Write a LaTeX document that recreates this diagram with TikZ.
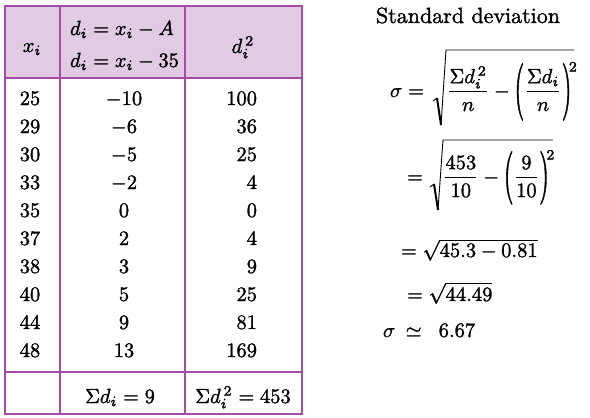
\documentclass[tikz,border=0pt]{standalone}
\usepackage{amsmath}
\usepackage{graphicx}
\definecolor{tline}{HTML}{A54BA8}
\definecolor{thead}{HTML}{E1CBE3}
\newcommand{\fakebold}{\special{pdf:literal direct 2 Tr 0.14 w}}
\newcommand{\tabfont}{\fontsize{10}{12}\selectfont\fakebold}
\newcommand{\lpar}[1]{\mathopen{\vcenter{\hbox{\scalebox{1.25}[#1]{(}}}}}
\newcommand{\rpar}[1]{\mathclose{\vcenter{\hbox{\scalebox{1.25}[#1]{)}}}}}
\newcommand{\lowsq}{\!\raisebox{-1.6pt}{$\scriptstyle 2$}}
\begin{document}
\begin{tikzpicture}[x=1pt,y=-1pt,
  every node/.style={font=\tabfont, inner sep=0pt, outer sep=0pt, scale=2.05},
  tabline/.style={draw=tline, line width=1.5pt},
  cellA/.style={anchor=base},
  cellB/.style={anchor=base},
  cellC/.style={anchor=base east},
  mathline/.style={anchor=base west},
  radthin/.style={line width=0.9pt, line join=round},
  radthick/.style={line width=2pt, line cap=butt}]
\useasboundingbox (0,0) rectangle (590,418);
% table
\fill[thead] (5,6) rectangle (302,78);
\draw[tabline] (5,6) rectangle (302,414);
\draw[tabline] (60,6) -- (60,414);
\draw[tabline] (185,6) -- (185,414);
\draw[tabline] (5,78) -- (302,78);
\draw[tabline] (5,372) -- (302,372);
% header
\node[anchor=base] (hx) at (32,52) {$x_i$};
\node[anchor=base west] (hd1) at (70,35) {$d_i = x_i - A$};
\node[anchor=base west] (hd2) at (70,67) {$d_i = x_i - 35$};
\node[anchor=base] (hd3) at (243,53) {$d_i^{\,2}$};
% rows
\foreach \k/\a/\b/\c in {0/25/-10/100,1/29/-6/36,2/30/-5/25,3/33/-2/4,4/35/0/0,5/37/2/4,6/38/3/9,7/40/5/25,8/44/9/81,9/48/13/169}{
  \node[cellA] (a\k) at (30,105+28*\k) {$\a$};
  \node[cellB] (b\k) at (124,105+28*\k) {$\b$};
  \node[cellC] (c\k) at (257,105+28*\k) {$\c$};
}
% footer
\node[anchor=base] (fb) at (120,403) {$\Sigma d_i = 9$};
\node[anchor=base] (fc) at (243,403) {$\Sigma d_i^{\,2} = 453$};
% right side
\node[anchor=base west, scale=1.073] (title) at (376,23) {Standard deviation};
% line 1
\node[mathline] (m1l) at (390,97) {$\sigma =$};
\node[mathline] (m1r) at (447,97) {$\displaystyle \frac{\Sigma d_i^{\,2}}{n}-\lpar{2.8}\frac{\Sigma d_i}{n}\rpar{2.8}^{\lowsq}$};
\coordinate (r1a) at (433,101);
\coordinate (r1b) at (437,98);
\coordinate (r1c) at (441,125);
\coordinate (r1d) at (446,50);
\coordinate (r1e) at (574,50);
\draw[radthin] (r1a) -- (r1b);
\draw[radthick] (r1b) -- (r1c);
\draw[radthin] (r1c) -- (r1d) -- (r1e);
% line 2
\node[mathline] (m2l) at (407,183) {$=$};
\node[mathline] (m2r) at (443,183) {$\displaystyle \frac{453}{10}-\lpar{2.6}\frac{9}{10}\rpar{2.6}^{\lowsq}$};
\coordinate (r2a) at (430,187);
\coordinate (r2b) at (434,184);
\coordinate (r2c) at (438,210);
\coordinate (r2d) at (443,140);
\coordinate (r2e) at (553,140);
\draw[radthin] (r2a) -- (r2b);
\draw[radthick] (r2b) -- (r2c);
\draw[radthin] (r2c) -- (r2d) -- (r2e);
% lines 3-5
\node[mathline] (m3) at (401,257) {$= \sqrt{45.3-0.81}$};
\node[mathline] (m4) at (407,301) {$= \sqrt{44.49}$};
\node[mathline] (m5) at (383,337) {$\sigma\mskip4mu\simeq\mskip10mu 6.67$};
\end{tikzpicture}
\end{document}
